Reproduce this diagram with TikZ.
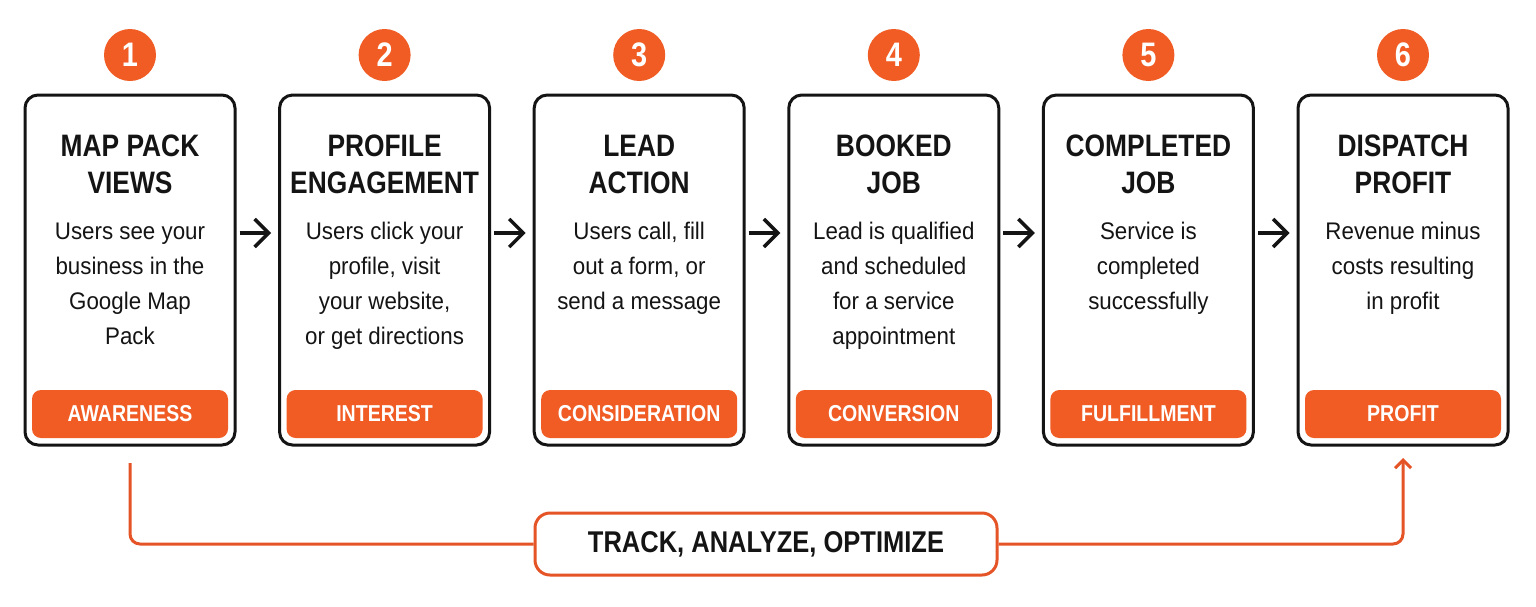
\documentclass[tikz,border=0pt]{standalone}
\usepackage{fontspec}
\setmainfont{Liberation Sans}
\newfontfamily\condf[FakeStretch=0.85]{Liberation Sans}
\newfontfamily\bodyf[FakeStretch=0.93]{Liberation Sans}
\usetikzlibrary{arrows.meta,calc}
\definecolor{org}{RGB}{240,92,36}
\definecolor{orgline}{RGB}{229,84,38}
\definecolor{ink}{RGB}{20,20,20}
\tikzset{
  stagebox/.style={draw=ink, line width=3pt, rounded corners=13pt, fill=white,
    minimum width=210pt, minimum height=350pt, inner sep=0pt},
  numcirc/.style={circle, fill=org, minimum size=52pt, inner sep=0pt, text=white,
    font=\condf\bfseries\fontsize{34}{34}\selectfont},
  titletext/.style={anchor=north, align=center, inner sep=0pt, text=ink,
    font=\condf\bfseries\fontsize{31}{37}\selectfont},
  bodytext/.style={anchor=north, align=center, inner sep=0pt, text=ink,
    font=\bodyf\fontsize{24}{35}\selectfont},
  labelbox/.style={fill=org, rounded corners=9pt, minimum width=196pt, minimum height=48pt,
    inner sep=0pt, text=white, font=\condf\bfseries\fontsize{23}{23}\selectfont},
  flowarrow/.style={draw=ink, line width=3.5pt, -{Straight Barb[length=14pt,width=28pt]}},
  trackbox/.style={draw=orgline, line width=3pt, rounded corners=15pt, fill=white,
    minimum width=462pt, minimum height=62pt, inner sep=0pt, text=ink,
    font=\condf\bfseries\fontsize{30}{30}\selectfont},
  loopline/.style={draw=orgline, line width=3pt, rounded corners=10pt}
}
\newcommand\mkstage[5]{%
  \node[stagebox] (b#1) at (#2,270) {};
  \node[numcirc] (n#1) at (#2,55) {#1};
  \node[titletext] (t#1) at (#2,130) {\strut #3};
  \node[bodytext] (d#1) at (#2,214.5) {\strut #4};
  \node[labelbox] (l#1) at (#2,414) {#5};
}
\begin{document}
\begin{tikzpicture}[x=1pt,y=-1pt]
\useasboundingbox[fill=white] (0,0) rectangle (1536,606);
\mkstage{1}{130}{MAP PACK\\VIEWS}{Users see your\\business in the\\Google Map\\Pack}{AWARENESS}
\mkstage{2}{384.6}{PROFILE\\ENGAGEMENT}{Users click your\\profile, visit\\your website,\\or get directions}{INTEREST}
\mkstage{3}{639.2}{LEAD\\ACTION}{Users call, fill\\out a form, or\\send a message}{CONSIDERATION}
\mkstage{4}{893.8}{BOOKED\\JOB}{Lead is qualified\\and scheduled\\for a service\\appointment}{CONVERSION}
\mkstage{5}{1148.4}{COMPLETED\\JOB}{Service is\\completed\\successfully}{FULFILLMENT}
\mkstage{6}{1403}{DISPATCH\\PROFIT}{Revenue minus\\costs resulting\\in profit}{PROFIT}
\foreach \a/\b in {1/2,2/3,3/4,4/5,5/6}{
  \draw[flowarrow] ([xshift=3pt,yshift=37pt]b\a.east) -- ([xshift=-7pt,yshift=37pt]b\b.west);
}
\node[trackbox] (track) at (766,544) {TRACK, ANALYZE, OPTIMIZE};
\coordinate (loopstart) at (130,463);
\coordinate (loopend) at (1403,458);
\draw[loopline] (loopstart) |- (track.west);
\draw[loopline, -{Straight Barb[length=8pt,width=16pt]}] (track.east) -| (loopend);
\end{tikzpicture}
\end{document}
